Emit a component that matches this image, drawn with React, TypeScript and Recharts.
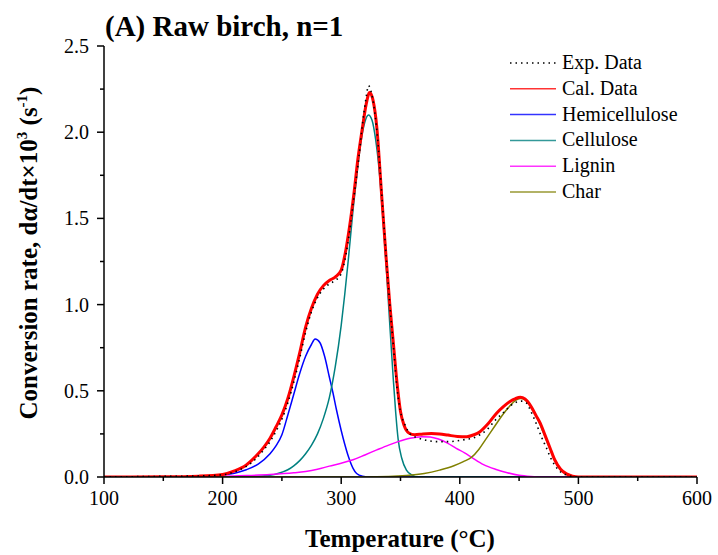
import { LineChart, Line, XAxis, YAxis, Legend } from "recharts"

const FONT = '"Liberation Serif", "Times New Roman", serif'

// [temperature °C, conversion rate]
const expData: [number, number][] = [
  [100, 0], [140, 0.003], [180, 0.006], [200, 0.013], [210, 0.03], [220, 0.062], [228, 0.105],
  [235, 0.16], [240, 0.205], [245, 0.265], [250, 0.335], [255, 0.43], [260, 0.55], [265, 0.69],
  [270, 0.84], [275, 0.96], [280, 1.04], [285, 1.09], [290, 1.12], [295, 1.14], [300, 1.18],
  [304, 1.29], [307, 1.42], [311, 1.64], [315, 1.86], [318, 2.05], [321, 2.2], [323, 2.27],
  [325, 2.24], [328, 2.13], [331, 1.94], [334, 1.66], [338, 1.27], [341, 1.0], [344, 0.76],
  [347, 0.52], [350, 0.38], [354, 0.3], [358, 0.25], [366, 0.224], [374, 0.21], [382, 0.205],
  [390, 0.205], [398, 0.21], [405, 0.218], [411, 0.226], [417, 0.245], [423, 0.275], [430, 0.33],
  [437, 0.375], [443, 0.415], [448, 0.435], [452, 0.44], [456, 0.43], [460, 0.38], [465, 0.3],
  [469, 0.23], [473, 0.17], [476, 0.12], [479, 0.08], [484, 0.035], [490, 0.012], [495, 0.003],
  [500, 0], [600, 0],
]

const calData: [number, number][] = [
  [100, 0], [150, 0.001], [180, 0.005], [200, 0.015], [210, 0.035], [220, 0.07], [228, 0.12],
  [235, 0.175], [240, 0.225], [245, 0.29], [250, 0.36], [255, 0.455], [260, 0.58], [265, 0.72],
  [270, 0.87], [275, 0.98], [280, 1.06], [285, 1.11], [290, 1.14], [295, 1.16], [300, 1.2],
  [304, 1.32], [307, 1.45], [311, 1.66], [314, 1.84], [318, 2.03], [321, 2.16], [324, 2.23],
  [327, 2.18], [330, 2.03], [334, 1.645], [338, 1.26], [341, 1.0], [344, 0.775], [347, 0.55],
  [350, 0.38], [353, 0.3], [357, 0.255], [362, 0.245], [369, 0.25], [376, 0.252], [383, 0.25],
  [390, 0.243], [398, 0.235], [406, 0.234], [412, 0.245], [417, 0.263], [424, 0.31], [431, 0.37],
  [437, 0.41], [442, 0.437], [447, 0.455], [451, 0.462], [455, 0.452], [460, 0.41], [464, 0.36],
  [468, 0.31], [472, 0.24], [476, 0.17], [480, 0.1], [485, 0.045], [490, 0.018], [495, 0.005],
  [500, 0], [600, 0],
]

const hemiData: [number, number][] = [
  [100, 0], [150, 0.001], [180, 0.003], [190, 0.006], [200, 0.012], [210, 0.022], [220, 0.042],
  [230, 0.075], [240, 0.135], [245, 0.18], [250, 0.245], [255, 0.36], [260, 0.48], [265, 0.6],
  [270, 0.7], [275, 0.77], [278, 0.8], [282, 0.78], [286, 0.7], [290, 0.58], [293, 0.49],
  [296, 0.39], [300, 0.27], [303, 0.19], [306, 0.12], [310, 0.05], [313, 0.02], [318, 0.005],
  [325, 0], [600, 0],
]

const celluloseData: [number, number][] = [
  [100, 0], [220, 0.002], [240, 0.01], [250, 0.028], [255, 0.042], [260, 0.065], [265, 0.095],
  [270, 0.135], [275, 0.185], [280, 0.25], [285, 0.34], [290, 0.46], [295, 0.64], [300, 0.88],
  [303, 1.06], [306, 1.26], [310, 1.55], [314, 1.8], [317, 1.96], [320, 2.06], [323, 2.1],
  [326, 2.07], [329, 1.96], [332, 1.78], [335, 1.52], [338, 1.22], [341, 0.88], [344, 0.56],
  [346, 0.37], [348, 0.22], [351, 0.11], [355, 0.04], [360, 0.01], [365, 0], [600, 0],
]

const ligninData: [number, number][] = [
  [100, 0], [150, 0.001], [200, 0.004], [220, 0.008], [240, 0.014], [260, 0.024], [270, 0.032],
  [280, 0.045], [290, 0.063], [300, 0.08], [310, 0.1], [320, 0.128], [330, 0.157], [340, 0.185],
  [348, 0.205], [358, 0.225], [368, 0.234], [375, 0.232], [382, 0.22], [390, 0.195], [397, 0.166],
  [404, 0.14], [410, 0.114], [420, 0.072], [430, 0.045], [440, 0.025], [450, 0.01], [460, 0.003],
  [470, 0], [600, 0],
]

const charData: [number, number][] = [
  [100, 0], [300, 0], [340, 0.003], [355, 0.008], [370, 0.02], [383, 0.04], [395, 0.065],
  [403, 0.089], [410, 0.115], [416, 0.16], [422, 0.22], [430, 0.3], [436, 0.36], [442, 0.41],
  [447, 0.445], [451, 0.456], [455, 0.447], [460, 0.41], [465, 0.345], [470, 0.265], [475, 0.18],
  [480, 0.1], [485, 0.045], [490, 0.015], [495, 0.004], [500, 0], [600, 0],
]

const xTicks = [100, 150, 200, 250, 300, 350, 400, 450, 500, 550, 600]
const yTicks = [0, 0.25, 0.5, 0.75, 1, 1.25, 1.5, 1.75, 2, 2.25, 2.5]

const series = [
  { name: "Exp. Data", data: expData, color: "#000000", width: 1.6, dash: "1.5 4" },
  { name: "Cal. Data", data: calData, color: "#ff0000", width: 3 },
  { name: "Hemicellulose", data: hemiData, color: "#0000ff", width: 1.5 },
  { name: "Cellulose", data: celluloseData, color: "#008080", width: 1.5 },
  { name: "Lignin", data: ligninData, color: "#ff00ff", width: 1.5 },
  { name: "Char", data: charData, color: "#808000", width: 1.5 },
]

const toRows = (pts: [number, number][]) => pts.map(([t, v]) => ({ t, v }))

function BottomTick({ x, y, payload }: any) {
  const major = payload.value % 100 === 0
  return (
    <g>
      <line x1={x} y1={y} x2={x} y2={y + (major ? 7 : 4)} stroke="#000" strokeWidth={1.5} />
      {major && (
        <text x={x} y={y + 28} textAnchor="middle" fontSize={20} fontFamily={FONT} fill="#000">
          {payload.value}
        </text>
      )}
    </g>
  )
}

function LeftTick({ x, y, payload }: any) {
  const major = payload.value % 0.5 === 0
  return (
    <g>
      <line x1={x} y1={y} x2={x - (major ? 7 : 4)} y2={y} stroke="#000" strokeWidth={1.5} />
      {major && (
        <text x={x - 15} y={y + 7} textAnchor="end" fontSize={20} fontFamily={FONT} fill="#000">
          {payload.value.toFixed(1)}
        </text>
      )}
    </g>
  )
}

function TopTick({ x, y }: any) {
  return <line x1={x} y1={y} x2={x} y2={y + 4} stroke="#000" strokeWidth={1.2} />
}

function RightTick({ x, y }: any) {
  return <line x1={x} y1={y} x2={x - 4} y2={y} stroke="#000" strokeWidth={1.2} />
}

function LegendBox() {
  return (
    <svg width={200} height={160}>
      {series.map((s, i) => {
        const cy = 14 + i * 25.8
        return (
          <g key={s.name}>
            <line
              x1={5}
              x2={51}
              y1={cy}
              y2={cy}
              stroke={s.color}
              strokeWidth={1.5}
              strokeDasharray={s.dash}
              strokeOpacity={s.dash ? 1 : 0.8}
            />
            <text x={57} y={cy + 6} fontSize={20} fontFamily={FONT} fill="#000">
              {s.name}
            </text>
          </g>
        )
      })}
    </svg>
  )
}

export default function App() {
  const drawOrder = [2, 3, 4, 5, 1, 0]
  return (
    <div style={{ position: "absolute", left: 0, top: 0, width: 718, height: 555, background: "#fff" }}>
      <LineChart width={718} height={555} margin={{ top: 46, right: 21, bottom: 0, left: 0 }}>
        <XAxis
          dataKey="t"
          type="number"
          domain={[100, 600]}
          ticks={xTicks}
          interval={0}
          height={78}
          tickSize={0}
          tickMargin={0}
          tickLine={false}
          axisLine={{ stroke: "#000", strokeWidth: 1.5 }}
          tick={<BottomTick />}
          allowDataOverflow
        />
        <XAxis
          xAxisId="top"
          dataKey="t"
          type="number"
          orientation="top"
          domain={[100, 600]}
          ticks={xTicks}
          interval={0}
          height={0}
          tickSize={0}
          tickMargin={0}
          tickLine={false}
          axisLine={{ stroke: "#000", strokeWidth: 1.5 }}
          tick={<TopTick />}
        />
        <YAxis
          type="number"
          domain={[0, 2.5]}
          ticks={yTicks}
          interval={0}
          width={104}
          tickSize={0}
          tickMargin={0}
          tickLine={false}
          axisLine={{ stroke: "#000", strokeWidth: 1.5 }}
          tick={<LeftTick />}
          allowDataOverflow
        />
        <YAxis
          yAxisId="right"
          orientation="right"
          type="number"
          domain={[0, 2.5]}
          ticks={yTicks}
          interval={0}
          width={0}
          tickSize={0}
          tickMargin={0}
          tickLine={false}
          axisLine={{ stroke: "#000", strokeWidth: 1.5 }}
          tick={<RightTick />}
        />
        {drawOrder.map((i) => {
          const s = series[i]
          return (
            <Line
              key={s.name}
              name={s.name}
              data={toRows(s.data)}
              dataKey="v"
              type="monotone"
              stroke={s.color}
              strokeWidth={s.width}
              strokeDasharray={s.dash}
              dot={false}
              activeDot={false}
              isAnimationActive={false}
            />
          )
        })}
        <Legend
          layout="vertical"
          align="center"
          verticalAlign="middle"
          wrapperStyle={{ left: 505, top: 49, width: 200, height: 160 }}
          content={() => <LegendBox />}
        />
        <text x={105} y={36} fontSize={29} fontWeight="bold" fontFamily={FONT} fill="#000">
          (A) Raw birch, n=1
        </text>
        <text x={400} y={547} textAnchor="middle" fontSize={25} fontWeight="bold" fontFamily={FONT} fill="#000">
          Temperature (°C)
        </text>
        <text
          transform="translate(37, 253) rotate(-90)"
          textAnchor="middle"
          fontSize={25}
          fontWeight="bold"
          fontFamily={FONT}
          fill="#000"
        >
          Conversion rate, dα/dt×10
          <tspan fontSize={15} dy={-10}>3</tspan>
          <tspan dy={10}> (s</tspan>
          <tspan fontSize={15} dy={-10}>-1</tspan>
          <tspan dy={10}>)</tspan>
        </text>
      </LineChart>
    </div>
  )
}
